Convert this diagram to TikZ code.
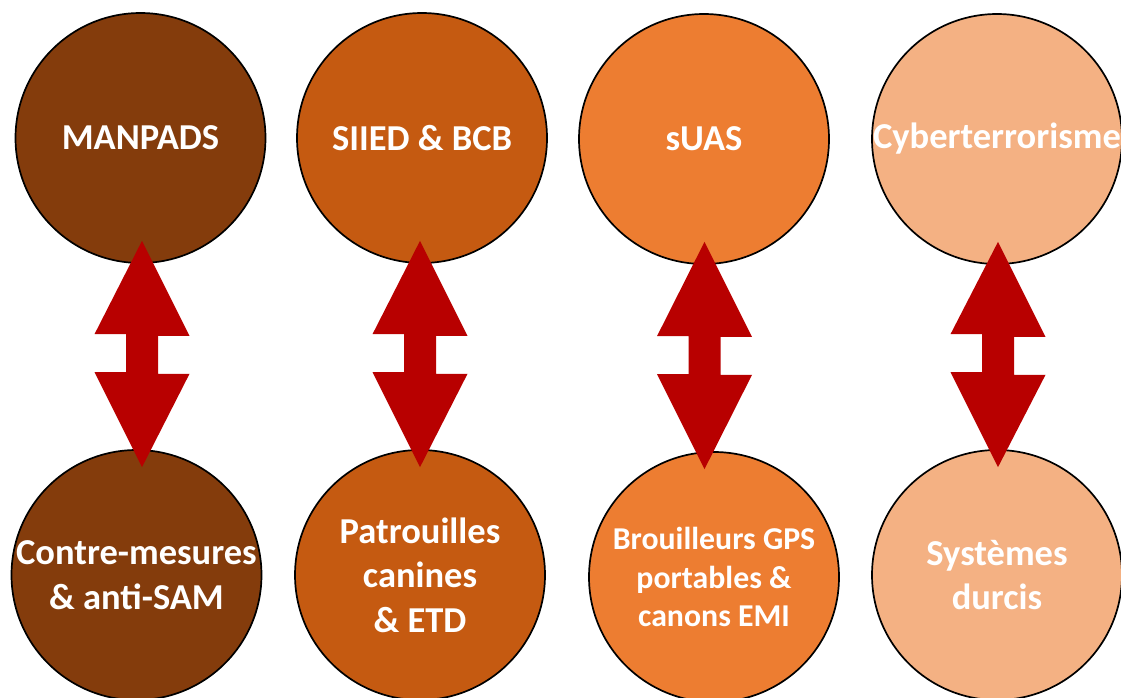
\documentclass[tikz,border=0pt]{standalone}
\usepackage{fontspec}
\setmainfont{Carlito}
\usetikzlibrary{calc}
\definecolor{cA}{HTML}{843C0C}
\definecolor{cB}{HTML}{C55A11}
\definecolor{cC}{HTML}{ED7D31}
\definecolor{cD}{HTML}{F4B183}
\definecolor{arrred}{HTML}{B80000}
\tikzset{
  bubble/.style={circle, draw=black, line width=1.7pt, minimum size=250pt, inner sep=0pt},
  txt/.style={text=white, font=\bfseries\fontsize{36.5}{44.5}\selectfont, align=center, inner sep=0pt},
  txtsmall/.style={text=white, font=\bfseries\fontsize{31.8}{38.5}\selectfont, align=center, inner sep=0pt},
  arr/.style={fill=arrred, draw=none}
}
\begin{document}
\begin{tikzpicture}[x=1pt,y=-1pt]
\useasboundingbox (0,0) rectangle (1121,697);
% top row
\node[bubble, fill=cA, label={[txt]center:MANPADS}] (t1) at (140.5,138) {};
\node[bubble, fill=cB, label={[txt]center:SIIED \& BCB}] (t2) at (422,138) {};
\node[bubble, fill=cC, label={[txt]center:sUAS}] (t3) at (704,139) {};
\node[bubble, fill=cD, label={[txt]center:Cyberterrorisme}] (t4) at (997,139) {};
% bottom row
\node[bubble, fill=cA, label={[txt]center:Contre-mesures\\\& anti-SAM}] (b1) at (136.5,575) {};
\node[bubble, fill=cB, label={[txt]center:Patrouilles\\canines\\\& ETD}] (b2) at (420,575) {};
\node[bubble, fill=cC, label={[txtsmall]center:Brouilleurs GPS\\portables \&\\canons EMI}] (b3) at (714,577) {};
\node[bubble, fill=cD, label={[txt]center:Systèmes\\durcis}] (b4) at (997,575) {};
% double arrows
\foreach \i/\dx in {1/1.5,2/-2,3/0.5,4/1}{
  \coordinate (u\i) at ($(t\i.south)+(\dx,-23)$);
  \coordinate (d\i) at ($(t\i.south |- b\i.north)+(\dx,18)$);
  \fill[arr] (u\i) -- ++(47.5,95) -- ++(-31.5,0) -- ++(0,38) -- ++(31.5,0)
    -- (d\i) -- ++(-47.5,-95) -- ++(31.5,0) -- ++(0,-38) -- ++(-31.5,0) -- cycle;
}
\end{tikzpicture}
\end{document}
